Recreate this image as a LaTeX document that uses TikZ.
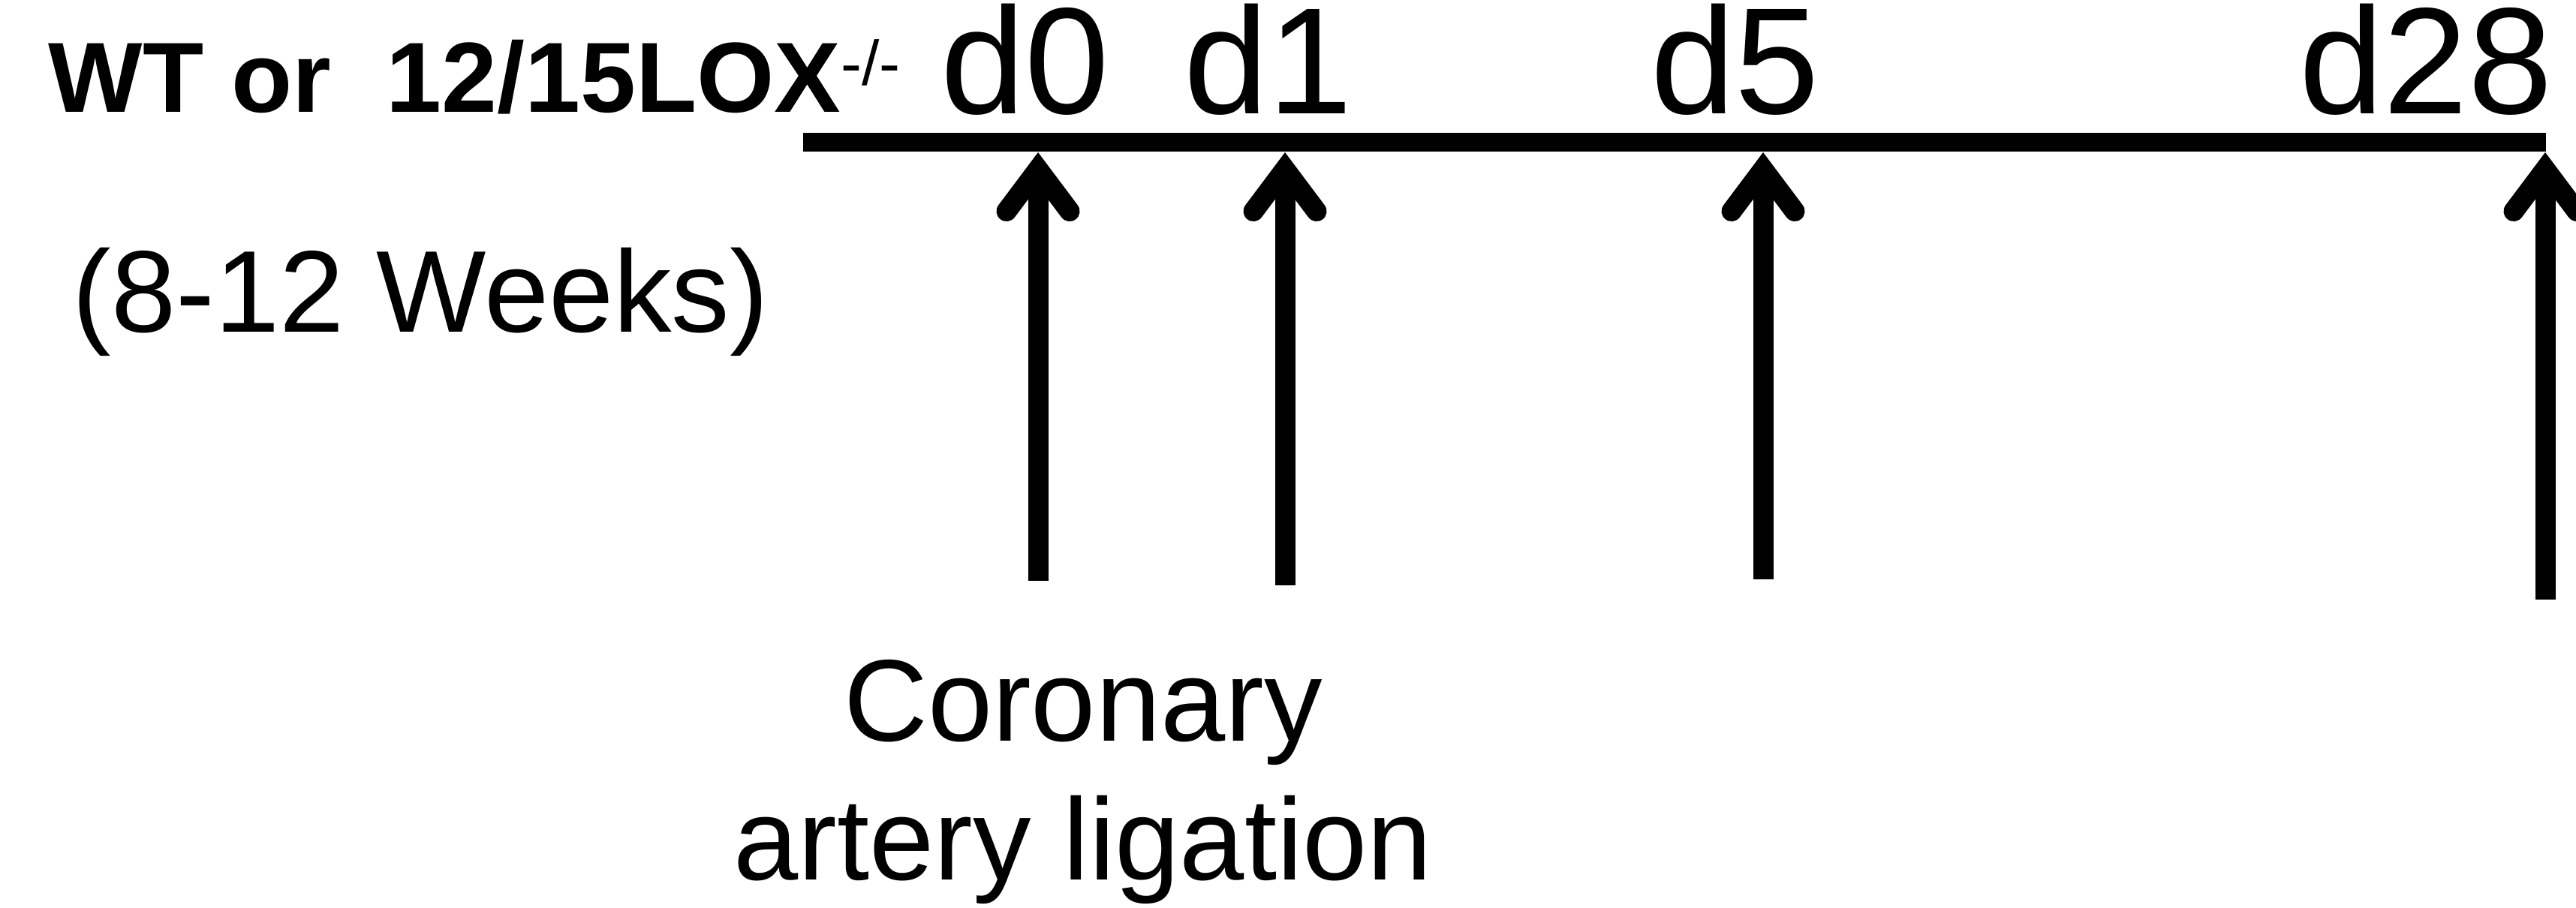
\documentclass[tikz,border=0pt]{standalone}
\usepackage{fontspec}
\setmainfont{Liberation Sans}
\tikzset{
  timeline/.style={line width=0.25cm},
  shaft/.style={line width=0.27cm},
  barb/.style={line width=0.27cm,line cap=round,line join=miter},
  daylabel/.style={anchor=base,inner sep=0pt,text height=0.72em,font=\fontsize{57.5}{60}\selectfont},
}
\begin{document}
\begin{tikzpicture}[x=1cm,y=1cm]
  \useasboundingbox (0,0) rectangle (34.32,12.09);

  % Mouse strains and their age at the start.
  \node[anchor=base west,inner sep=0pt,font=\fontsize{37.8}{40}\selectfont\bfseries] (mice) at (0.64,10.59)
    {WT or\ \ 12/15LOX\raisebox{10.5pt}{\fontsize{23.9}{25}\selectfont\mdseries -/-}};
  \node[anchor=base west,inner sep=0pt,font=\fontsize{44.1}{46}\selectfont] (age) at (0.96,7.66) {(8-12 Weeks)};

  % Time line, days written above it.
  \coordinate (start) at (10.70,10.19);
  \coordinate (end) at (33.92,10.19);
  \draw[timeline] (start) -- (end);

  % One upward arrow under each day.
  \foreach \d/\x/\lx/\yb in {0/13.83/13.66/4.35, 1/17.12/16.90/4.29, 5/23.49/23.12/4.37, 28/33.91/32.32/4.10} {
    \node[daylabel] (d\d) at (\lx,10.57) {d\d};
    \coordinate (top\d) at (\x,10.065);
    \coordinate (foot\d) at (\x,\yb);
    \draw[shaft] (foot\d) -- ([yshift=-0.23cm]top\d);
    \draw[barb] ([shift={(-0.42,-0.79)}]top\d) -- ([yshift=-0.23cm]top\d) -- ([shift={(0.42,-0.79)}]top\d);
  }

  % Surgery done on day 0.
  \node[align=center,inner sep=0pt,font=\fontsize{44.1}{52.6}\selectfont] (surgery) at (14.43,1.67)
    {Coronary\\artery ligation};
\end{tikzpicture}
\end{document}
